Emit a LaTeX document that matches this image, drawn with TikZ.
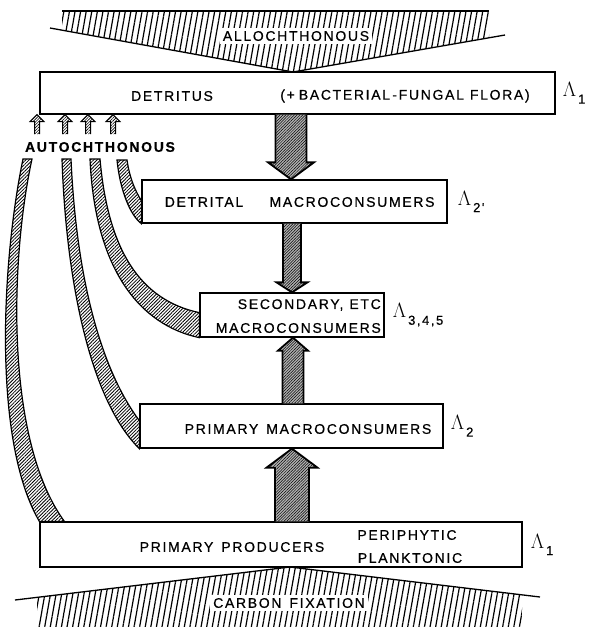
\documentclass[tikz,border=0pt]{standalone}
\usepackage{fontspec}
\newfontfamily\lbl[LetterSpace=12, FakeBold=0.6]{Liberation Sans}
\usetikzlibrary{positioning, calc, patterns.meta}

\tikzset{
  box/.style={draw, line width=1.3pt, fill=white, inner sep=0pt},
  txt/.style={font=\lbl\fontsize{14}{16}\selectfont, inner sep=0pt},
  lam/.style={inner sep=0pt},
  flow/.style={draw, line width=1.8pt, preaction={fill=black!30},
    pattern={Lines[angle=45,distance=2pt,line width=0.5pt]}},
  tinyflow/.style={draw, line width=1pt, preaction={fill=white},
    pattern={Lines[angle=45,distance=2pt,line width=0.6pt]}},
  band/.style={draw, line width=1.2pt, preaction={fill=white},
    pattern={Lines[angle=45,distance=2.4pt,line width=0.8pt]}},
  rain/.style={pattern={Lines[angle=80,distance=5.5pt,line width=1.2pt]}},
}

% Lambda with a sans subscript
\newcommand{\lamsub}[1]{{\fontsize{20.74}{21}\selectfont$\Lambda$}\hspace{2pt}\raisebox{-7pt}{\lbl\fontsize{13}{13}\selectfont #1}}

% fat vertical arrow: [style]{from}{to}{half shaft}{half head}{head length}
\newcommand{\flowarrow}[6][flow]{%
  \draw[#1] let \p1=(#2), \p2=(#3), \n1={sign(\y2-\y1)} in
    (\x1-#4,\y1) -- (\x1-#4,\y2-\n1*#6) -- (\x1-#5,\y2-\n1*#6) -- (\x1,\y2)
    -- (\x1+#5,\y2-\n1*#6) -- (\x1+#4,\y2-\n1*#6) -- (\x1+#4,\y1);}

\begin{document}
\begin{tikzpicture}[x=1pt, y=-1pt]
  \useasboundingbox (0,0) rectangle (593,627);

  % allochthonous input
  \fill[rain] (62,11) -- (489,11) -- (489,37.8) -- (293,72) -- (62,30.2) -- cycle;
  \draw[line width=1.2pt] (62,11) -- (489,11);
  \draw[line width=1.3pt] (50,28) -- (293,72) -- (505,35);
  \node[txt, fill=white, inner sep=3pt] (alloch) at (296,36) {ALLOCHTHONOUS};

  % carbon fixation
  \fill[rain] (37,627) -- (37,597.4) -- (290,567) -- (522,594.8) -- (522,627) -- cycle;
  \draw[line width=1.3pt] (15,600) -- (290,567) -- (540,597);
  \node[txt, fill=white, inner sep=3pt] (carbon) at (289,603) {CARBON\hspace{8pt}FIXATION};

  % compartments
  \node[box, minimum width=515pt, minimum height=42pt] (detritus) at (297.5,93) {};
  \node[box, minimum width=305pt, minimum height=43pt] (detmacro) at (294.5,201.5) {};
  \node[box, minimum width=184pt, minimum height=44pt] (secondary) at (292,315) {};
  \node[box, minimum width=303pt, minimum height=44pt] (primmacro) at (291.5,426) {};
  \node[box, minimum width=482pt, minimum height=45pt] (producers) at (281,544.5) {};

  % texts
  \node[txt] (dettxt) at (172,96) {DETRITUS};
  \node[txt] (flora) at (405,96) {(+\hspace{4pt}BACTERIAL\,-FUNGAL\hspace{6pt}FLORA)};
  \node[txt] (dettal) at (204,202) {DETRITAL};
  \node[txt] (detcons) at (352,202) {MACROCONSUMERS};
  \node[txt, anchor=east] (sectxt) at (381,305) {SECONDARY,\hspace{6pt}ETC};
  \node[txt, anchor=east] (seccons) at (381,328) {MACROCONSUMERS};
  \node[txt] (primtxt) at (308,429) {PRIMARY\hspace{8pt}MACROCONSUMERS};
  \node[txt] (prodtxt) at (232,547) {PRIMARY\hspace{8pt}PRODUCERS};
  \node[txt] (peri) at (407,535) {PERIPHYTIC};
  \node[txt] (plank) at (410,558) {PLANKTONIC};
  \node[txt, font=\lbl\bfseries\fontsize{14}{16}\selectfont] (autoch) at (100,147) {AUTOCHTHONOUS};

  % levels
  \node[lam, right=7pt of detritus] (lamd) {\lamsub{1}};
  \node[lam, right=10pt of detmacro] (lamdc) {\lamsub{2'}};
  \node[lam, right=8pt of secondary] (lams) {\lamsub{3,4,5}};
  \node[lam, right=7pt of primmacro] (lamp) {\lamsub{2}};
  \node[lam, right=8pt of producers] (lamq) {\lamsub{1}};

  % main flows
  \flowarrow{$(detritus.south)+(-6.5,0)$}{detmacro.north}{15.5pt}{23pt}{17pt}
  \flowarrow{$(detmacro.south)+(-2.5,0)$}{secondary.north}{9pt}{15.5pt}{10pt}
  \flowarrow{$(primmacro.north)+(1.5,0)$}{secondary.south}{10.5pt}{15pt}{13pt}
  \flowarrow{$(producers.north)+(11,0)$}{primmacro.south}{17pt}{25.5pt}{19pt}

  % autochthonous returns to detritus
  \foreach \x [count=\i] in {37,65,88,113} {
    \coordinate (up\i) at (\x,134);
    \flowarrow[tinyflow]{up\i}{detritus.south}{2.5pt}{7pt}{7pt}
  }

  % autochthonous bands
  \draw[band] (23,159) .. controls (2,260) and (-8,440) .. (producers.north west)
    -- ($(producers.north west)+(25,0)$) .. controls (5,440) and (10,260) .. (32,159) -- cycle;
  \draw[band] (62,159) .. controls (66,280) and (90,400) .. (primmacro.south west)
    -- ($(primmacro.south west)+(0,-28)$) .. controls (98,365) and (76,270) .. (71,159) -- cycle;
  \draw[band] (90,159) .. controls (95,270) and (140,325) .. (secondary.south west)
    -- ($(secondary.south west)+(0,-25)$) .. controls (140,300) and (108,250) .. (100,159) -- cycle;
  \draw[band] (117,160) .. controls (120,190) and (130,215) .. (detmacro.south west)
    -- ($(detmacro.south west)+(0,-23)$) .. controls (136,192) and (130,180) .. (127,160) -- cycle;
\end{tikzpicture}
\end{document}
